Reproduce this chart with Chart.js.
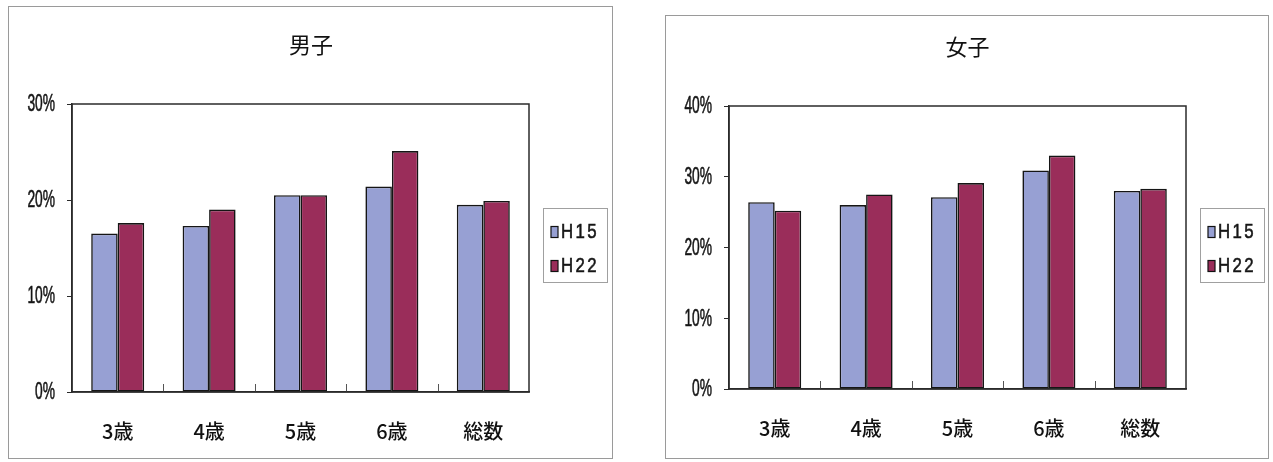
<!DOCTYPE html>
<html lang="ja">
<head>
<meta charset="utf-8">
<title>男子・女子 H15 / H22</title>
<script src="https://cdn.jsdelivr.net/npm/chart.js@4/dist/chart.umd.min.js"></script>
<style>
  html, body { margin: 0; padding: 0; background: #ffffff; }
  body { width: 1273px; height: 462px; position: relative; overflow: hidden; }
  .frame { position: absolute; border: 1px solid #9a9a9a; box-sizing: border-box; }
  canvas { position: absolute; }
</style>
</head>
<body>
<div class="frame" style="left:8px;top:6px;width:605px;height:453px;"></div>
<canvas id="boys" width="604" height="452" style="left:8px;top:6px;"></canvas>
<div class="frame" style="left:665px;top:15px;width:604px;height:444px;"></div>
<canvas id="girls" width="603" height="443" style="left:665px;top:15px;"></canvas>
<script>
// categories and values (%)
const categories = ['3歳', '4歳', '5歳', '6歳', '総数'];
const seriesNames = ['H15', 'H22'];
const boysH15 = [16.5, 17.3, 20.5, 21.4, 19.5];
const boysH22 = [17.6, 19.0, 20.5, 25.1, 19.9];
const girlsH15 = [26.4, 26.0, 27.1, 30.9, 28.0];
const girlsH22 = [25.2, 27.5, 29.1, 33.0, 28.3];
const boysTicks = [0, 10, 20, 30];
const girlsTicks = [0, 10, 20, 30, 40];

const COLOR_H15 = '#97a0d3';
const COLOR_H22 = '#9a2d5a';
const INK = '#2b2b2b';
const NUM_FONT = '"Liberation Sans", Arimo, sans-serif';
const JP_FONT = '"Noto Sans CJK JP", "Noto Sans", sans-serif';
const pct = v => v + '%';

// draws text squeezed horizontally, lightly outlined so it reads a little heavier
function narrowText(ctx, text, x, y, sx, align) {
  ctx.save();
  ctx.translate(x, y);
  ctx.scale(sx, 1);
  ctx.textAlign = align;
  ctx.textBaseline = 'middle';
  ctx.fillStyle = '#161616';
  ctx.strokeStyle = '#161616';
  ctx.lineWidth = 0.6;
  ctx.fillText(text, 0, 0);
  ctx.strokeText(text, 0, 0);
  ctx.restore();
}

// title, condensed value labels, plot frame, category separators and boxed legend
const framePlugin = {
  id: 'frameDecor',
  afterDatasetsDraw(chart) {
    const { ctx, chartArea: a, scales: { x, y } } = chart;
    ctx.save();
    // short separators between categories, rising from the axis
    ctx.strokeStyle = '#555';
    ctx.lineWidth = 1;
    for (let i = 1; i < categories.length; i++) {
      const px = Math.round((x.getPixelForValue(i - 1) + x.getPixelForValue(i)) / 2) + 0.5;
      ctx.beginPath();
      ctx.moveTo(px, a.bottom);
      ctx.lineTo(px, a.bottom - 8);
      ctx.stroke();
    }
    // plot area outline
    ctx.strokeStyle = INK;
    ctx.lineWidth = 1.5;
    ctx.strokeRect(a.left, a.top, a.right - a.left, a.bottom - a.top);

    // y tick labels in a narrow, tall face
    ctx.font = '23px ' + NUM_FONT;
    y.ticks.forEach(t => {
      narrowText(ctx, pct(t.value), a.left - 17, y.getPixelForValue(t.value) + 1, 0.6, 'right');
    });
    ctx.restore();
  },
  afterDraw(chart, args, opts) {
    const { ctx, chartArea: a } = chart;
    ctx.save();
    // title
    ctx.fillStyle = '#111';
    ctx.font = '22px ' + JP_FONT;
    ctx.textAlign = 'center';
    ctx.textBaseline = 'middle';
    ctx.fillText(opts.title, chart.width / 2 + 1, opts.titleY);

    // legend box
    const lx = a.right + 14, lw = 64, lh = 74;
    const ly = Math.round((a.top + a.bottom) / 2 - 3 - lh / 2);
    ctx.fillStyle = '#ffffff';
    ctx.fillRect(lx, ly, lw, lh);
    ctx.strokeStyle = '#a0a0a0';
    ctx.lineWidth = 1;
    ctx.strokeRect(lx + 0.5, ly + 0.5, lw, lh);
    chart.data.datasets.forEach((ds, i) => {
      const cy = ly + 23.5 + i * 34;
      ctx.fillStyle = ds.backgroundColor;
      ctx.fillRect(lx + 8, cy - 5, 7, 11);
      ctx.strokeStyle = '#111';
      ctx.lineWidth = 1.2;
      ctx.strokeRect(lx + 8, cy - 5, 7, 11);
      ctx.font = '21px ' + NUM_FONT;
      if ('letterSpacing' in ctx) ctx.letterSpacing = '3px';
      narrowText(ctx, ds.label, lx + 18, cy + 1, 0.8, 'left');
      if ('letterSpacing' in ctx) ctx.letterSpacing = '0px';
    });
    ctx.restore();
  }
};

function makeChart(id, opts) {
  const tickVals = opts.ticks;
  return new Chart(document.getElementById(id), {
    type: 'bar',
    data: {
      labels: categories,
      datasets: [
        { label: seriesNames[0], data: opts.h15, backgroundColor: COLOR_H15 },
        { label: seriesNames[1], data: opts.h22, backgroundColor: COLOR_H22 }
      ]
    },
    plugins: [framePlugin],
    options: {
      responsive: false,
      animation: false,
      devicePixelRatio: 1,
      layout: { padding: { left: 0, top: opts.plotTop, right: opts.padRight, bottom: 0 } },
      datasets: {
        bar: {
          categoryPercentage: 0.58,
          barPercentage: 1.0,
          borderColor: '#151515',
          borderWidth: 1.6,
          borderSkipped: false
        }
      },
      plugins: {
        legend: { display: false },
        tooltip: { enabled: false },
        title: { display: false },
        frameDecor: { title: opts.title, titleY: opts.titleY }
      },
      scales: {
        x: {
          grid: { display: false, drawTicks: false },
          border: { display: true, color: INK, width: 1.5 },
          ticks: {
            padding: 27,
            color: '#111',
            font: { family: JP_FONT, size: 20, weight: '500' },
            maxRotation: 0
          },
          afterFit(scale) { scale.height = opts.xAxisHeight; }
        },
        y: {
          min: tickVals[0],
          max: tickVals[tickVals.length - 1],
          afterBuildTicks(scale) { scale.ticks = tickVals.map(v => ({ value: v })); },
          grid: { display: true, drawOnChartArea: false, drawTicks: true, tickLength: 5, color: INK, lineWidth: 1 },
          border: { display: true, color: INK, width: 1.5 },
          ticks: { display: false, callback: pct },
          afterFit(scale) { scale.width = 64; }
        }
      }
    }
  });
}

makeChart('boys', {
  title: '男子', titleY: 39, h15: boysH15, h22: boysH22, ticks: boysTicks,
  plotTop: 98, padRight: 83, xAxisHeight: 66
});
makeChart('girls', {
  title: '女子', titleY: 32, h15: girlsH15, h22: girlsH22, ticks: girlsTicks,
  plotTop: 91, padRight: 82, xAxisHeight: 69
});
</script>
</body>
</html>
